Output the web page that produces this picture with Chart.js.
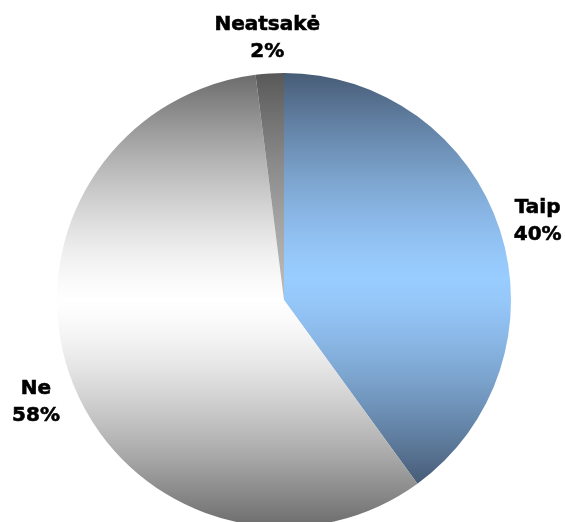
<!DOCTYPE html>
<html>
<head>
<meta charset="utf-8">
<title>Atsakymai</title>
<script src="https://cdn.jsdelivr.net/npm/chart.js@4/dist/chart.umd.min.js"></script>
<style>
  html, body { margin: 0; padding: 0; background: #ffffff; }
  canvas { display: block; }
</style>
</head>
<body>
<canvas id="pie" width="565" height="522"></canvas>
<script>
// Survey answers, in percent
const categories = ['Taip', 'Ne', 'Neatsakė'];
const shares = [40, 58, 2];

// Vertical gradient per slice: edge colour, light colour (RGB) and where the light band sits
const sliceTones = [
  { edge: [71, 92, 118], light: [153, 204, 255], peak: 0.5 },
  { edge: [108, 108, 108], light: [255, 255, 255], peak: 0.5 },
  { edge: [88, 88, 88], light: [185, 185, 185], peak: 1 }
];

const RADIUS = 227;

function mix(a, b, t) {
  return 'rgb(' + a.map((v, k) => Math.round(v + (b[k] - v) * t)).join(',') + ')';
}

// Vertical extent of a slice (relative to the centre), angles in radians from 3 o'clock
function sliceExtent(a0, a1, r) {
  let top = Math.min(0, r * Math.sin(a0), r * Math.sin(a1));
  let bottom = Math.max(0, r * Math.sin(a0), r * Math.sin(a1));
  for (let k = -2; k <= 2; k++) {
    const down = Math.PI / 2 + k * 2 * Math.PI;
    const up = -Math.PI / 2 + k * 2 * Math.PI;
    if (down >= a0 && down <= a1) bottom = r;
    if (up >= a0 && up <= a1) top = -r;
  }
  return [top, bottom];
}

// Each slice gets its own top-to-bottom gradient over its own height
function sliceFill(ctx) {
  const chart = ctx.chart;
  const area = chart.chartArea;
  const { edge, light, peak } = sliceTones[ctx.dataIndex];
  if (!area) return mix(edge, light, 0);
  const values = ctx.dataset.data;
  const total = values.reduce((a, b) => a + b, 0);
  const before = values.slice(0, ctx.dataIndex).reduce((a, b) => a + b, 0);
  const a0 = -Math.PI / 2 + before / total * 2 * Math.PI;
  const a1 = a0 + values[ctx.dataIndex] / total * 2 * Math.PI;
  const cy = (area.top + area.bottom) / 2;
  const [top, bottom] = sliceExtent(a0, a1, RADIUS);
  const g = chart.ctx.createLinearGradient(0, cy + top, 0, cy + bottom);
  for (let i = 0; i <= 20; i++) {
    const s = i / 20;
    let d;
    if (s <= peak) d = peak > 0 ? (peak - s) / peak : 0;
    else d = (s - peak) / (1 - peak);
    const t = 1 - Math.pow(d, 1.4);
    g.addColorStop(s, mix(edge, light, t));
  }
  return g;
}

// Category name and percentage outside each slice
const outsideLabels = {
  id: 'outsideLabels',
  afterDatasetsDraw(chart) {
    const meta = chart.getDatasetMeta(0);
    const values = chart.data.datasets[0].data;
    const total = values.reduce((a, b) => a + b, 0);
    const ctx = chart.ctx;
    ctx.save();
    ctx.fillStyle = '#000000';
    ctx.strokeStyle = '#000000';
    ctx.lineWidth = 0.6;
    ctx.font = 'bold 20px "DejaVu Sans", Verdana, sans-serif';
    ctx.textAlign = 'center';
    ctx.textBaseline = 'middle';
    meta.data.forEach((arc, i) => {
      const mid = (arc.startAngle + arc.endAngle) / 2;
      const r = arc.outerRadius * 1.175;
      const x = arc.x + Math.cos(mid) * r;
      const y = arc.y + Math.sin(mid) * r + 4;
      const pct = Math.round(values[i] / total * 100) + '%';
      [[chart.data.labels[i], y - 13.5], [pct, y + 13.5]].forEach(([txt, ty]) => {
        ctx.fillText(txt, x, ty);
        ctx.strokeText(txt, x, ty);
      });
    });
    ctx.restore();
  }
};

new Chart(document.getElementById('pie'), {
  type: 'pie',
  data: {
    labels: categories,
    datasets: [{
      data: shares,
      backgroundColor: sliceFill,
      borderWidth: 0,
      radius: RADIUS
    }]
  },
  options: {
    responsive: false,
    animation: false,
    layout: { padding: { top: 78, bottom: 0, left: 3, right: 0 } },
    plugins: {
      legend: { display: false },
      tooltip: { enabled: false }
    }
  },
  plugins: [outsideLabels]
});
</script>
</body>
</html>
